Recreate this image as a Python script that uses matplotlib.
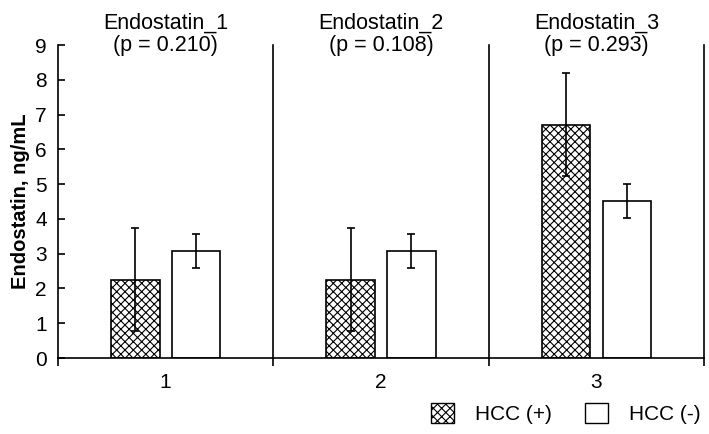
import numpy as np
import matplotlib.pyplot as plt
from matplotlib.patches import Patch

plt.rcParams['font.family'] = ['Liberation Sans', 'DejaVu Sans']
plt.rcParams['hatch.linewidth'] = 0.8

groups = [1, 2, 3]
titles = ["Endostatin_1", "Endostatin_2", "Endostatin_3"]
p_values = ["0.210", "0.108", "0.293"]
hcc_pos = [2.25, 2.25, 6.71]
hcc_pos_err = [1.48, 1.48, 1.48]
hcc_neg = [3.08, 3.08, 4.51]
hcc_neg_err = [0.48, 0.48, 0.48]

fig = plt.figure(figsize=(7.09, 4.34), dpi=100)
ax = fig.add_axes([0.0818, 0.1751, 0.9112, 0.7212])

x = np.array(groups)
w = 0.225
off = 0.141

ax.bar(x - off, hcc_pos, w, color='white', edgecolor='black', hatch='xxxx',
       linewidth=1.2, zorder=2)
ax.bar(x + off, hcc_neg, w, color='white', edgecolor='black',
       linewidth=1.2, zorder=2)
ax.errorbar(x - off, hcc_pos, yerr=hcc_pos_err, fmt='none', ecolor='black',
            elinewidth=1.2, capsize=3, capthick=1.2, zorder=3)
ax.errorbar(x + off, hcc_neg, yerr=hcc_neg_err, fmt='none', ecolor='black',
            elinewidth=1.2, capsize=3, capthick=1.2, zorder=3)

# group dividers
for b in [1.5, 2.5, 3.5]:
    ax.plot([b, b], [0, 9], color='black', lw=1.2, clip_on=False, zorder=1)

for xi, t, p in zip(x, titles, p_values):
    ax.text(xi, 9.48, t, ha='center', va='baseline', fontsize=15.5, clip_on=False)
    ax.text(xi, 8.82, f"(p = {p})", ha='center', va='baseline', fontsize=15.5,
            clip_on=False)

ax.set_xlim(0.5, 3.5)
ax.set_ylim(0, 9)
ax.set_yticks(range(10))
ax.set_xticks(groups)
ax.set_xticks([0.5, 1.5, 2.5, 3.5], minor=True)
ax.tick_params(axis='y', direction='in', length=5, width=1.2, labelsize=15, pad=8)
ax.tick_params(axis='x', which='major', length=0, labelsize=15, pad=11)
ax.tick_params(axis='x', which='minor', direction='out', length=6, width=1.2)
for s in ['top', 'right']:
    ax.spines[s].set_visible(False)
for s in ['left', 'bottom']:
    ax.spines[s].set_linewidth(1.2)
ax.set_ylabel("Endostatin, ng/mL", fontsize=14.5, fontweight='bold', labelpad=4)

handles = [Patch(facecolor='white', edgecolor='black', hatch='xxxx', lw=1.0),
           Patch(facecolor='white', edgecolor='black', lw=1.0)]
fig.legend(handles, ["HCC (+)", "HCC (-)"], loc='center right',
           bbox_to_anchor=(1.0, 0.048), ncol=2, frameon=False, fontsize=15,
           handlelength=1.1, handleheight=1.1, handletextpad=1.0,
           columnspacing=1.6, borderaxespad=0.0)

fig.savefig("out.png", dpi=100)
